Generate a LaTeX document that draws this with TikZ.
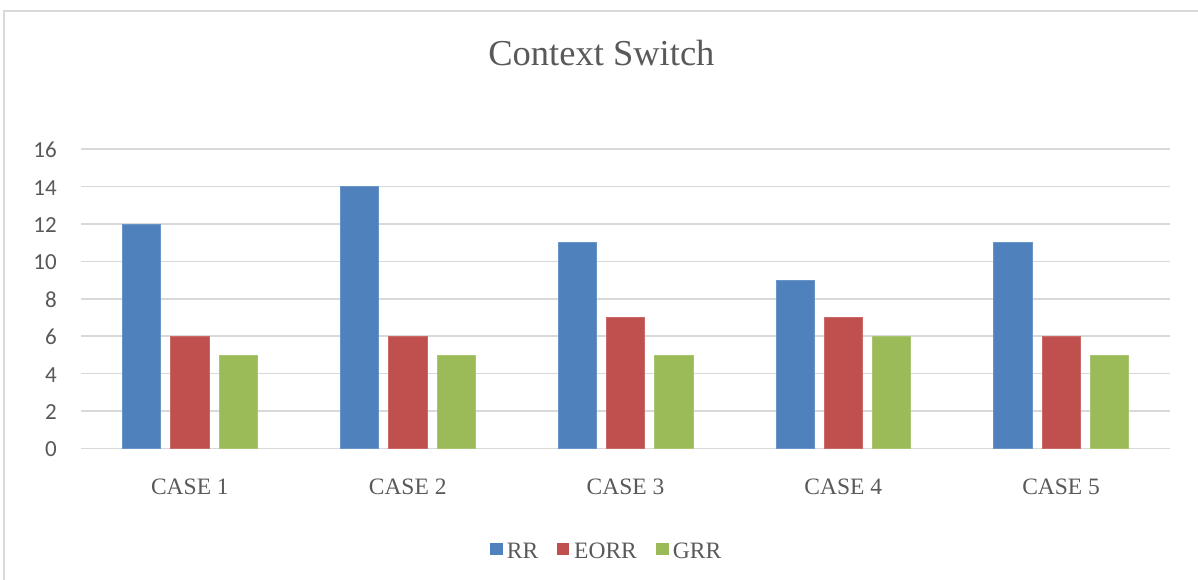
\documentclass[tikz,border=0pt]{standalone}
\usepackage{fontspec}
\setmainfont{Liberation Serif}
\newfontfamily\axisfont{Carlito}
\definecolor{rrblue}{HTML}{4F81BD}
\definecolor{eorrred}{HTML}{C0504D}
\definecolor{grrgreen}{HTML}{9BBB59}
\definecolor{txtgrey}{HTML}{595959}
\definecolor{gridgrey}{HTML}{D9D9D9}
\begin{document}
\begin{tikzpicture}[x=1pt,y=-1pt,
  gridline/.style={draw=gridgrey,line width=1.6pt},
  bar/.style={line width=0.6pt},
  ticklabel/.style={anchor=base east,inner sep=0pt,text=txtgrey,font=\axisfont\fontsize{23}{26}\selectfont},
  catlabel/.style={anchor=base,inner sep=0pt,text=txtgrey,font=\fontsize{23.5}{26}\selectfont},
  legtext/.style={anchor=base west,inner sep=0pt,text=txtgrey,font=\fontsize{23.5}{26}\selectfont},
  legkey/.style={minimum size=12.5pt,inner sep=0pt,draw=none}]
\useasboundingbox (0,0) rectangle (1198,579);
\begin{scope}
\clip (0,0) rectangle (1198,579);
\draw[draw=gridgrey,line width=1.5pt,fill=white] (4,11) rectangle (1210,590);
\end{scope}
% title
\node[anchor=base,inner sep=0pt,text=txtgrey,font=\fontsize{36.5}{40}\selectfont] (title) at (601.4,65) {Context Switch};
% gridlines and tick labels
\foreach \v in {0,2,...,16}{
  \pgfmathsetmacro{\yy}{448.3-18.69*\v}
  \draw[gridline] (81,\yy) -- (1170,\yy);
  \node[ticklabel] (tick\v) at (57,\yy+8.5) {\v};
}
% bars
\foreach \i/\a/\b/\c in {0/12/6/5,1/14/6/5,2/11/7/5,3/9/7/6,4/11/6/5}{
  \pgfmathsetmacro{\cx}{81+(\i+0.5)*217.8}
  \pgfmathsetmacro{\ya}{448.3-18.69*\a}
  \pgfmathsetmacro{\yb}{448.3-18.69*\b}
  \pgfmathsetmacro{\yc}{448.3-18.69*\c}
  \filldraw[bar,fill=rrblue,draw=rrblue!85!white] (\cx-48.3-19.15,448.3) rectangle (\cx-48.3+19.15,\ya);
  \filldraw[bar,fill=eorrred,draw=eorrred!85!white] (\cx-19.15,448.3) rectangle (\cx+19.15,\yb);
  \filldraw[bar,fill=grrgreen,draw=grrgreen!85!white] (\cx+48.3-19.15,448.3) rectangle (\cx+48.3+19.15,\yc);
  \pgfmathtruncatemacro{\n}{\i+1}
  \node[catlabel] (case\n) at (\cx,494.3) {CASE \n};
}
% legend
\node[legkey,fill=rrblue] (keyrr) at (496.3,548.9) {};
\node[legtext] (legrr) at (506.7,558.3) {RR};
\node[legkey,fill=eorrred] (keyeorr) at (562.8,548.9) {};
\node[legtext] (legeorr) at (574,558.3) {EORR};
\node[legkey,fill=grrgreen] (keygrr) at (662.3,548.9) {};
\node[legtext] (leggrr) at (672.7,558.3) {GRR};
\end{tikzpicture}
\end{document}
